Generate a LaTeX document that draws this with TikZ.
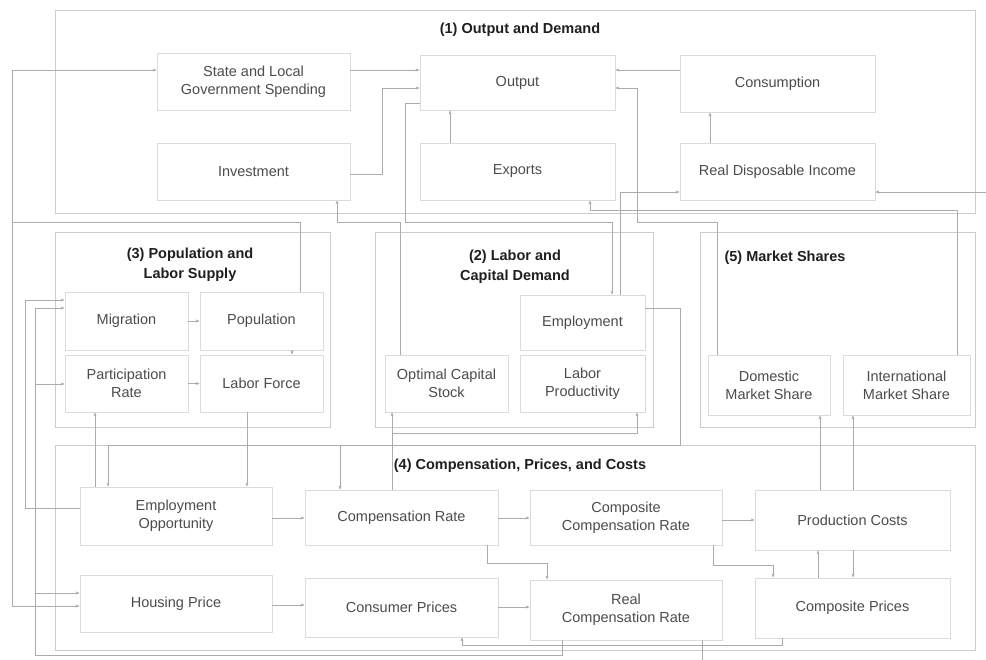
\documentclass[tikz,border=0pt]{standalone}
\usepackage{fontspec}
\setmainfont{Liberation Sans}
\usetikzlibrary{arrows.meta}
\begin{document}
\begin{tikzpicture}[x=1pt,y=-1pt,
 box/.style={draw=black!14, line width=0.8pt, align=center, text=black!70, font=\fontsize{14.5}{18}\selectfont, inner sep=0pt},
 grp/.style={draw=black!20, line width=0.9pt, inner sep=0pt},
 ttl/.style={align=center, text=black!88, font=\bfseries\fontsize{14.5}{20}\selectfont, inner sep=0pt},
 conn/.style={draw=black!33, line width=0.6pt, -{Stealth[length=4pt,width=3pt]}},
 wire/.style={draw=black!33, line width=0.6pt}]
\useasboundingbox[fill=white] (0,0) rectangle (986,660);
% groups
\node[grp, minimum width=920pt, minimum height=203pt] (g1) at (515,111.5) {};
\node[grp, minimum width=275pt, minimum height=195pt] (g3) at (192.5,329.5) {};
\node[grp, minimum width=278pt, minimum height=195pt] (g2) at (514,329.5) {};
\node[grp, minimum width=275pt, minimum height=195pt] (g5) at (837.5,329.5) {};
\node[grp, minimum width=920pt, minimum height=205pt] (g4) at (515,547.5) {};
% titles
\node[ttl] (t1) at (520,30) {(1) Output and Demand};
\node[ttl] (t3) at (190,265) {(3) Population and\\Labor Supply};
\node[ttl] (t2) at (515,267) {(2) Labor and\\Capital Demand};
\node[ttl] (t5) at (785,258) {(5) Market Shares};
\node[ttl] (t4) at (520,466) {(4) Compensation, Prices, and Costs};
% group 1
\node[box, minimum width=193pt, minimum height=57pt] (slg) at (253.5,81.5) {State and Local\\Government Spending};
\node[box, minimum width=195pt, minimum height=55pt] (out) at (517.5,82.5) {Output};
\node[box, minimum width=195pt, minimum height=57pt] (cons) at (777.5,83.5) {Consumption};
\node[box, minimum width=193pt, minimum height=57pt] (inv) at (253.5,171.5) {Investment};
\node[box, minimum width=195pt, minimum height=57pt] (exp) at (517.5,171.5) {Exports};
\node[box, minimum width=195pt, minimum height=57pt] (rdi) at (777.5,171.5) {Real Disposable Income};
% group 3
\node[box, minimum width=123pt, minimum height=58pt] (mig) at (126.5,321) {Migration};
\node[box, minimum width=123pt, minimum height=58pt] (pop) at (261.5,321) {Population};
\node[box, minimum width=123pt, minimum height=57pt] (par) at (126.5,383.5) {Participation\\Rate};
\node[box, minimum width=123pt, minimum height=57pt] (lf) at (261.5,383.5) {Labor Force};
% group 2
\node[box, minimum width=125pt, minimum height=55pt] (emp) at (582.5,322.5) {Employment};
\node[box, minimum width=123pt, minimum height=57pt] (ocs) at (446.5,383.5) {Optimal Capital\\Stock};
\node[box, minimum width=125pt, minimum height=57pt] (lp) at (582.5,383.5) {Labor\\Productivity};
% group 5
\node[box, minimum width=122pt, minimum height=60pt] (dms) at (769,385) {Domestic\\Market Share};
\node[box, minimum width=127pt, minimum height=60pt] (ims) at (906.5,385) {International\\Market Share};
% group 4
\node[box, minimum width=192pt, minimum height=58pt] (eo) at (176,516) {Employment\\Opportunity};
\node[box, minimum width=193pt, minimum height=55pt] (cr) at (401.5,517.5) {Compensation Rate};
\node[box, minimum width=192pt, minimum height=55pt] (ccr) at (626,517.5) {Composite\\Compensation Rate};
\node[box, minimum width=195pt, minimum height=60pt] (pc) at (852.5,520) {Production Costs};
\node[box, minimum width=192pt, minimum height=57pt] (hp) at (176,603.5) {Housing Price};
\node[box, minimum width=193pt, minimum height=59pt] (cp) at (401.5,607.5) {Consumer Prices};
\node[box, minimum width=192pt, minimum height=60pt] (rcr) at (626,610) {Real\\Compensation Rate};
\node[box, minimum width=195pt, minimum height=60pt] (cpr) at (852.5,608) {Composite Prices};
% junctions and free ends
\coordinate (jpop) at (12,222);
\coordinate (jemp) at (340,445);
\coordinate (jcr) at (392,433);
\coordinate (jrcr) at (35,655);
\coordinate (eR) at (986,192);
\coordinate (eB) at (702,660);
% connectors group 1
\draw[conn] (slg.east |- 0,70) -- (out.west |- 0,70);
\draw[conn] (cons.west |- 0,70) -- (out.east |- 0,70);
\draw[conn] (inv.east |- 0,174) -- (382,174) -- (382,88) -- (out.west |- 0,88);
\draw[conn] (450,0 |- exp.north) -- (450,0 |- out.south);
\draw[conn] (710,0 |- rdi.north) -- (710,0 |- cons.south);
\draw[conn] (dms.north -| 717,0) -- (717,222) -- (637,222) -- (637,88) -- (out.east |- 0,88);
\draw[conn] (957,0 |- ims.north) -- (957,210) -- (590,210) -- (590,0 |- exp.south);
\draw[conn] (out.west |- 0,103) -- (405,103) -- (405,222) -- (612,222) -- (612,0 |- emp.north);
\draw[conn] (620,0 |- emp.north) -- (620,192) -- (rdi.west |- 0,192);
\draw[conn] (eR) -- (rdi.east |- 0,192);
\draw[conn] (400,0 |- ocs.north) -- (400,222) -- (337,222) -- (337,0 |- inv.south);
% population
\draw[conn] (300,0 |- pop.north) -- (300,222) -- (jpop) -- (12,70) -- (slg.west |- 0,70);
\draw[conn] (jpop) -- (12,606) -- (hp.west |- 0,606);
\draw[conn] (mig) -- (pop);
\draw[conn] (par) -- (lf);
\draw[conn] (292,0 |- pop.south) -- (292,0 |- lf.north);
\draw[conn] (247,0 |- lf.south) -- (247,0 |- eo.north);
\draw[conn] (95,0 |- eo.north) -- (95,0 |- par.south);
\draw[conn] (eo.west |- 0,508) -- (25,508) -- (25,300) -- (mig.west |- 0,300);
% employment
\draw[conn] (emp.east |- 0,308) -- (680,308) -- (680,445) -- (jemp) -- (340,0 |- cr.north);
\draw[conn] (jemp) -- (108,445) -- (108,0 |- eo.north);
\draw[conn] (392,0 |- cr.north) -- (392,0 |- ocs.south);
\draw[conn] (jcr) -- (637,433) -- (637,0 |- lp.south);
% group 4
\draw[conn] (eo.east |- 0,518) -- (cr.west |- 0,518);
\draw[conn] (cr.east |- 0,518) -- (ccr.west |- 0,518);
\draw[conn] (ccr.east |- 0,520) -- (pc.west |- 0,520);
\draw[conn] (hp.east |- 0,605) -- (cp.west |- 0,605);
\draw[conn] (cp.east |- 0,607) -- (rcr.west |- 0,607);
\draw[conn] (487,0 |- cr.south) -- (487,563) -- (547,563) -- (547,0 |- rcr.north);
\draw[conn] (713,0 |- ccr.south) -- (713,565) -- (773,565) -- (773,0 |- cpr.north);
\draw[conn] (782,0 |- cpr.south) -- (782,645) -- (462,645) -- (462,0 |- cp.south);
\draw[conn] (818,0 |- cpr.north) -- (818,0 |- pc.south);
\draw[conn] (853,0 |- pc.south) -- (853,0 |- cpr.north);
\draw[conn] (820,0 |- pc.north) -- (820,0 |- dms.south);
\draw[conn] (853,0 |- pc.north) -- (853,0 |- ims.south);
% real compensation rate outputs
\draw[conn] (562,0 |- rcr.south) -- (562,655) -- (jrcr) -- (35,308) -- (mig.west |- 0,308);
\draw[conn] (35,384) -- (par.west |- 0,384);
\draw[conn] (35,593) -- (hp.west |- 0,593);
\draw[wire] (702,0 |- rcr.south) -- (eB);
\end{tikzpicture}
\end{document}
